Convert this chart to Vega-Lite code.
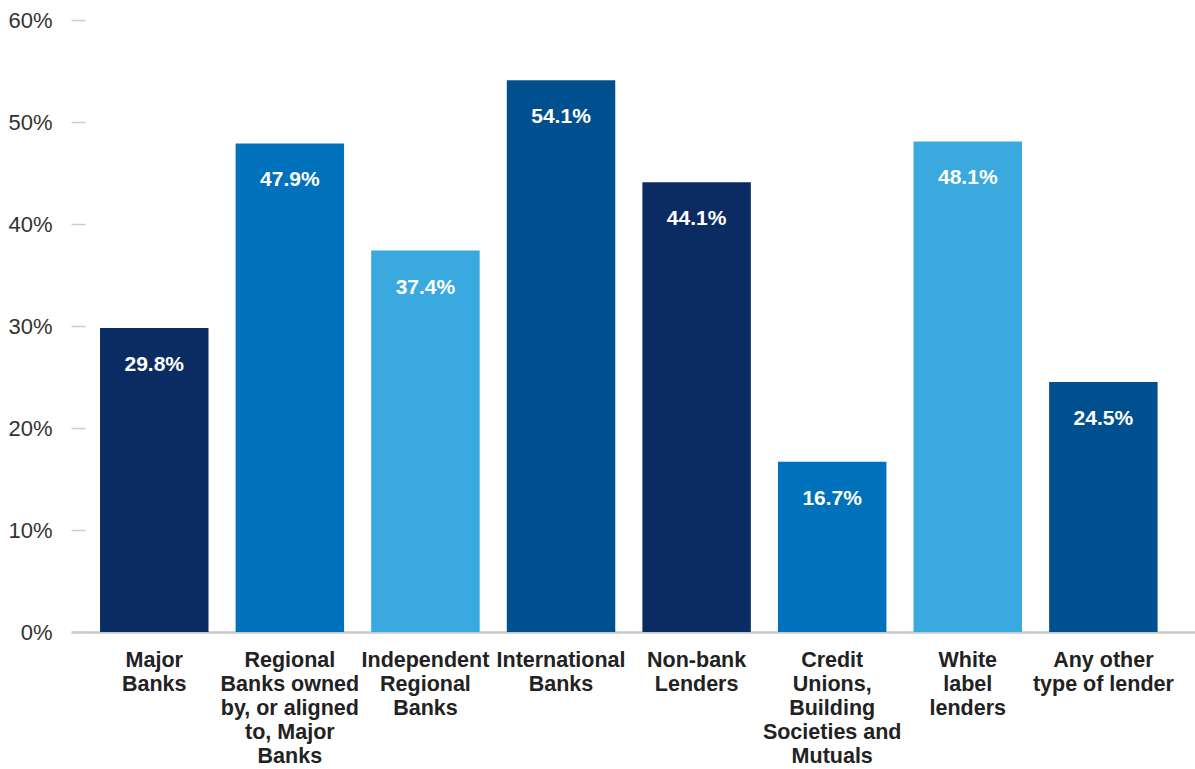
{
  "$schema": "https://vega.github.io/schema/vega-lite/v6.json",
  "autosize": {"type": "none"},
  "padding": {"left": 71, "top": 20, "right": 0, "bottom": 137},
  "width": 1124,
  "height": 612,
  "background": "#ffffff",
  "config": {
    "view": {"stroke": null},
    "font": "Liberation Sans"
  },
  "data": {
    "values": [
      {"lender": "Major\nBanks", "share": 0.298, "shade": "navy"},
      {"lender": "Regional\nBanks owned\nby, or aligned\nto, Major\nBanks", "share": 0.479, "shade": "blue"},
      {"lender": "Independent\nRegional\nBanks", "share": 0.374, "shade": "light"},
      {"lender": "International\nBanks", "share": 0.541, "shade": "mid"},
      {"lender": "Non-bank\nLenders", "share": 0.441, "shade": "navy"},
      {"lender": "Credit\nUnions,\nBuilding\nSocieties and\nMutuals", "share": 0.167, "shade": "blue"},
      {"lender": "White\nlabel\nlenders", "share": 0.481, "shade": "light"},
      {"lender": "Any other\ntype of lender", "share": 0.245, "shade": "mid"}
    ]
  },
  "encoding": {
    "x": {
      "field": "lender",
      "type": "nominal",
      "sort": null,
      "scale": {"paddingInner": 0.2, "paddingOuter": 0.245, "align": 0.437},
      "axis": {
        "title": null,
        "labelAngle": 0,
        "labelExpr": "split(datum.label, '\\n')",
        "labelFont": "Liberation Sans",
        "labelFontSize": 21.5,
        "labelFontWeight": "bold",
        "labelColor": "#222222",
        "labelLineHeight": 24,
        "labelBaseline": "top",
        "labelPadding": 17,
        "labelLimit": 0,
        "ticks": false,
        "domainColor": "#c8c8c8",
        "domainWidth": 2.5
      }
    },
    "y": {
      "field": "share",
      "type": "quantitative",
      "scale": {"domain": [0, 0.6], "nice": false},
      "axis": {
        "title": null,
        "values": [0, 0.1, 0.2, 0.3, 0.4, 0.5, 0.6],
        "format": ".0%",
        "labelFont": "Liberation Sans",
        "labelFontSize": 22,
        "labelColor": "#333333",
        "domain": false,
        "grid": false,
        "tickSize": -14,
        "tickColor": "#cccccc",
        "tickWidth": 1.5,
        "labelPadding": 33
      }
    }
  },
  "layer": [
    {
      "mark": {"type": "bar"},
      "encoding": {
        "color": {
          "field": "shade",
          "type": "nominal",
          "legend": null,
          "scale": {
            "domain": ["navy", "blue", "light", "mid"],
            "range": ["#0b2c63", "#0071bb", "#3aa9e0", "#00508f"]
          }
        }
      }
    },
    {
      "mark": {
        "type": "text",
        "color": "#ffffff",
        "font": "Liberation Sans",
        "fontSize": 21,
        "fontWeight": "bold",
        "baseline": "middle",
        "align": "center",
        "dy": 37
      },
      "encoding": {
        "text": {"field": "share", "type": "quantitative", "format": ".1%"}
      }
    }
  ]
}
